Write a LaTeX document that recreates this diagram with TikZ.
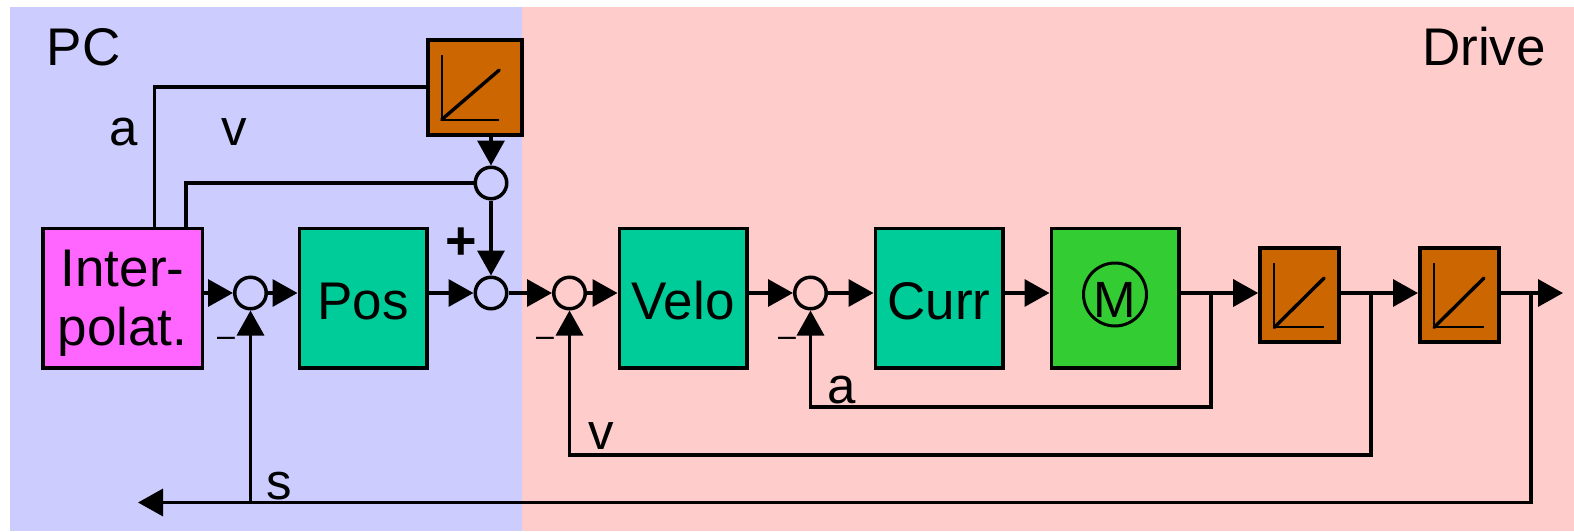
\documentclass[tikz,border=0pt]{standalone}
\usepackage{fontspec}
\setmainfont{Liberation Sans}
\usetikzlibrary{arrows.meta,calc}
\definecolor{pcblue}{HTML}{CCCCFF}
\definecolor{drivered}{HTML}{FFCCCC}
\definecolor{interpink}{HTML}{FF66FF}
\definecolor{ctrlgreen}{HTML}{00CC99}
\definecolor{motorgreen}{HTML}{33CC33}
\definecolor{gainbrown}{HTML}{CC6600}

\begin{document}
\begin{tikzpicture}[x=1pt,y=-1pt,
    lab/.style={font=\fontsize{51}{59}\selectfont,inner sep=0pt},
    big/.style={lab,font=\fontsize{53}{59}\selectfont},
    block/.style={big,draw,line width=3.5pt,align=center},
    ctrl/.style={block,fill=ctrlgreen,minimum width=127.5pt,minimum height=139.5pt,text height=42pt,text depth=0pt},
    gain/.style={draw,line width=4pt,fill=gainbrown,inner sep=0pt,minimum width=79pt,minimum height=94.5pt},
    summer/.style={circle,draw,line width=3.5pt,inner sep=0pt,minimum size=31.5pt},
    sig/.style={line width=3.4pt},
    arrow/.style={sig,-{Triangle[length=25pt,width=27pt]}}]
    \useasboundingbox (0,0) rectangle (1574,531);
    \fill[pcblue] (10,7) rectangle (522,531);
    \fill[drivered] (522,7) rectangle (1574,531);

    \node[big,anchor=base] (labPC) at (83.5,65) {PC};
    \node[big,anchor=base] (labDrive) at (1484,65) {Drive};

    \node[block,fill=interpink,minimum width=159.5pt,minimum height=139.5pt] (interp) at (122.5,298.2) {\rule{0pt}{47pt}Inter-\\polat.};
    \node[ctrl] (pos) at (363,298.2) {Pos};
    \node[ctrl] (velo) at (683,298.2) {Velo};
    \node[ctrl] (curr) at (939,298.2) {Curr};
    \node[ctrl,fill=motorgreen] (motor) at (1115,298.2) {};
    \node[lab,circle,draw,line width=3pt,minimum size=63pt,inner sep=0pt,text height=46pt,text depth=0pt] (motorM) at (1115,294.5) {M};
    \node[gain,minimum width=94.5pt,minimum height=94.5pt] (gainT) at (475,87.3) {};
    \node[gain] (gainA) at (1299.7,295.2) {};
    \node[gain] (gainB) at (1459.5,295.2) {};
    \foreach \g/\r in {gainT/25,gainA/17,gainB/17} {
        \draw[line width=2pt] ($(\g.north west)+(16,17)$) -- ($(\g.south west)+(16,-17)$) -- ($(\g.south east)+(-\r,-17)$);
        \draw[sig,line cap=round] ($(\g.south west)+(16,-17)$) -- ($(\g.north east)+(-\r,32)$);
    }

    \node[summer] (sumV) at (491,183) {};
    \node[summer] (sumA) at (250.5,293) {};
    \node[summer] (sumB) at (491,293) {};
    \node[summer] (sumC) at (569.5,293) {};
    \node[summer] (sumD) at (810.5,293) {};

    \coordinate (upA) at (154.5,87);
    \coordinate (upV) at (186,183);
    \coordinate (loopA) at (1211,407);
    \coordinate (loopV) at (1371,455);
    \coordinate (loopS) at (1531,502.5);
    \coordinate (endS) at (138,502.5);
    \coordinate (endOut) at (1563,293);

    \draw[sig] (upA |- interp.north) -- (upA) -- (upA -| gainT.west);
    \draw[sig] (upV |- interp.north) -- (upV) -- (sumV);
    \draw[arrow] (sumV |- gainT.south) -- (sumV);
    \draw[arrow] (sumV) -- (sumB);
    \draw[arrow] (sumA -| interp.east) -- (sumA);
    \draw[arrow] (sumA) -- (sumA -| pos.west);
    \draw[arrow] (sumB -| pos.east) -- (sumB);
    \draw[arrow] (sumB) -- (sumC);
    \draw[arrow] (sumC) -- (sumC -| velo.west);
    \draw[arrow] (sumD -| velo.east) -- (sumD);
    \draw[arrow] (sumD) -- (sumD -| curr.west);
    \draw[arrow] (sumD -| curr.east) -- (sumD -| motor.west);
    \draw[arrow] (sumD -| motor.east) -- (sumD -| gainA.west);
    \draw[arrow] (sumD -| gainA.east) -- (sumD -| gainB.west);
    \draw[arrow] (sumD -| gainB.east) -- (endOut);
    \draw[arrow] (loopA |- sumD) -- (loopA) -- (loopA -| sumD) -- (sumD);
    \draw[arrow] (loopV |- sumC) -- (loopV) -- (loopV -| sumC) -- (sumC);
    \draw[arrow] (loopS |- sumA) -- (loopS) -- (endS);
    \draw[arrow] (loopS -| sumA) -- (sumA);

    \node[lab,anchor=base] (labA) at (124,145) {a};
    \node[lab,anchor=base] (labV) at (234,145) {v};
    \node[lab,anchor=base,font=\fontsize{54}{59}\bfseries] (labPlus) at (461,259) {+};
    \node[lab,anchor=base] (labS) at (279,499) {s};
    \node[lab,anchor=base] (labV2) at (601,449) {v};
    \node[lab,anchor=base] (labA2) at (842,403) {a};
    \node[lab,font=\fontsize{32}{36}\selectfont] (minusA) at (226,342) {–};
    \node[lab,font=\fontsize{32}{36}\selectfont] (minusC) at (545,342) {–};
    \node[lab,font=\fontsize{32}{36}\selectfont] (minusD) at (787,342) {–};
\end{tikzpicture}
\end{document}
